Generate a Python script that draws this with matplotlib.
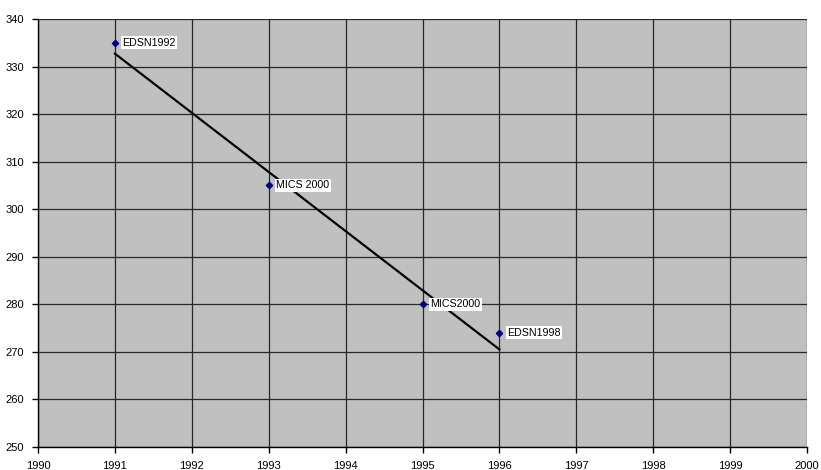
import numpy as np
import matplotlib
matplotlib.use("Agg")
import matplotlib.pyplot as plt

plt.rcParams['font.family'] = ['Liberation Sans', 'DejaVu Sans']

years = [1991, 1993, 1995, 1996]
values = [335, 305, 280, 274]
labels = ["EDSN1992", "MICS 2000", "MICS2000", "EDSN1998"]

xticks = list(range(1990, 2001))
yticks = list(range(250, 341, 10))

fig = plt.figure(figsize=(8.21, 4.70), dpi=100)
ax = fig.add_axes([0.0463, 0.049, 0.9367, 0.9106])
ax.set_facecolor("#C0C0C0")

# linear trend through the points
coef = np.polyfit(years, values, 1)
xt = np.array([years[0], years[-1]])
ax.plot(xt, np.polyval(coef, xt), color="black", lw=1.6, zorder=3)

ax.plot(years, values, ls="none", marker="D", ms=3.2, color="#000080", zorder=4)
for x, y, s in zip(years, values, labels):
    ax.annotate(s, (x, y), xytext=(5.5, 0), textcoords="offset points",
                va="center", ha="left", fontsize=7.7,
                bbox=dict(facecolor="white", edgecolor="none", pad=1.0), zorder=5)

ax.set_xlim(1990, 2000)
ax.set_ylim(250, 340)
ax.set_xticks(xticks)
ax.set_yticks(yticks)
ax.grid(True, color="#282828", lw=0.9)
ax.set_axisbelow(True)
ax.tick_params(labelsize=8, length=4, width=1, color="black", pad=6)
for side in ["top", "right"]:
    ax.spines[side].set_visible(False)
for side in ["left", "bottom"]:
    ax.spines[side].set_color("black")
    ax.spines[side].set_linewidth(1.0)

fig.savefig("out.png", dpi=100)
